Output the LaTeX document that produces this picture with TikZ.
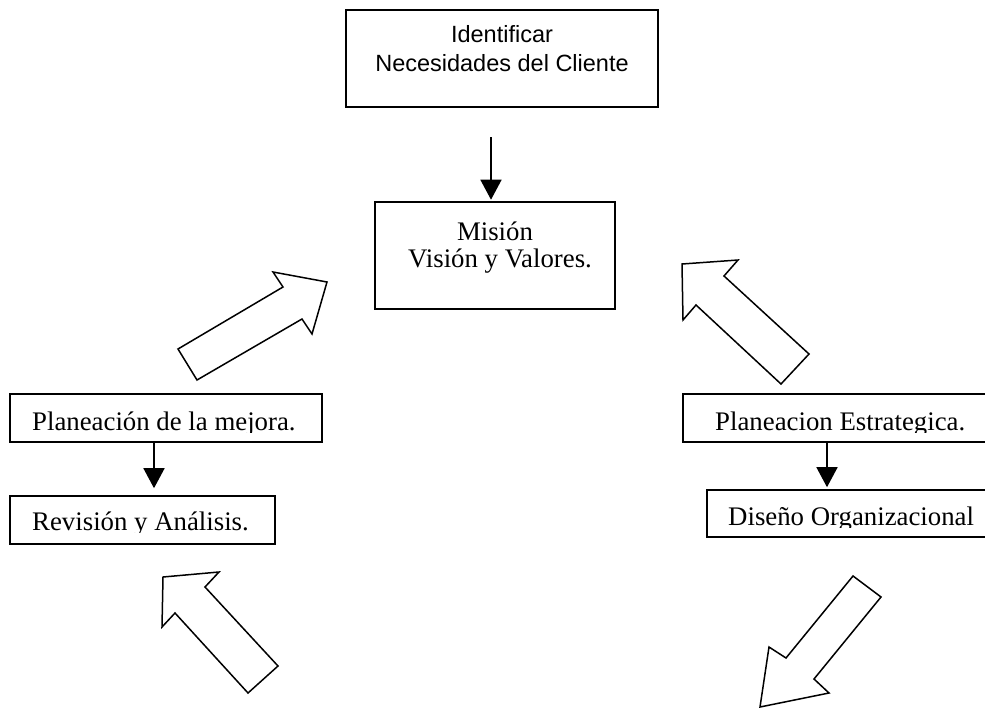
\documentclass[tikz,border=0pt]{standalone}
\usepackage{fontspec}
\setmainfont{Liberation Serif}
\newfontfamily\arialf{Liberation Sans}
\usetikzlibrary{arrows.meta}
\begin{document}
\begin{tikzpicture}[x=1pt,y=-1pt,
  box/.style={draw, line width=1.6pt, rectangle, inner sep=0pt},
  txt/.style={anchor=base, inner sep=0pt, font=\fontsize{26.8}{32}\selectfont},
  ltxt/.style={txt, anchor=base west},
  stxt/.style={anchor=base, inner sep=0pt, font=\arialf\fontsize{23.5}{28}\selectfont},
  link/.style={line width=1.6pt, -{Triangle[length=20pt,width=21pt]}},
  block/.style={draw, line width=1.5pt, fill=white, line join=miter}
]
\useasboundingbox[fill=white] (0,0) rectangle (985,709);
\clip (0,0) rectangle (985,709);

% boxes
\node[box, minimum width=312pt, minimum height=97pt] (need) at (502,58.5) {};
\node[box, minimum width=240pt, minimum height=107pt] (mis) at (495,255.5) {};
\node[box, minimum width=312pt, minimum height=48pt] (plm) at (166,418) {};
\node[box, minimum width=265pt, minimum height=48pt] (rev) at (142.5,520) {};
\node[box, minimum width=317pt, minimum height=48pt] (ple) at (841.5,418) {};
\node[box, minimum width=293pt, minimum height=47pt] (dis) at (853.5,513.5) {};

% texts
\node[stxt] (t1) at (502,43) {Identificar};
\node[stxt] (t2) at (502,71) {Necesidades del Cliente};
\node[txt] (t3) at (495,240) {Misión};
\node[txt] (t4) at (500,267) {Visión y Valores.};
\begin{scope}
  \clip (12,396) rectangle (320,432.5);
  \node[ltxt] (t5) at (32,430) {Planeación de la mejora.};
\end{scope}
\begin{scope}
  \clip (12,498) rectangle (273,532.5);
  \node[ltxt] (t6) at (32,530) {Revisión y Análisis.};
\end{scope}
\begin{scope}
  \clip (685,396) rectangle (985,432.5);
  \node[ltxt] (t7) at (715,430) {Planeacion Estrategica.};
\end{scope}
\begin{scope}
  \clip (709,492) rectangle (985,527.5);
  \node[ltxt] (t8) at (728,525) {Diseño Organizacional};
\end{scope}

% connectors
\coordinate (a1s) at (491,137);
\coordinate (c2) at (154,0);
\coordinate (c3) at (827,0);
\draw[link, shorten >=1.5pt] (a1s) -- (mis.north -| a1s);
\draw[link, shorten >=7pt] (plm.south -| c2) -- (rev.north -| c2);
\draw[link, shorten >=2pt] (ple.south -| c3) -- (dis.north -| c3);

% block arrows
\draw[block] (197,380) -- (178,349) -- (283,287) -- (273,272) -- (327,282)
  -- (312,334) -- (302,319) -- cycle;
\draw[block] (682,264) -- (738,260) -- (724,276) -- (809,354) -- (781,384)
  -- (696,305) -- (683,320) -- cycle;
\draw[block] (163,577) -- (219,572) -- (205,587) -- (278,666) -- (248,693)
  -- (175,613) -- (162,627) -- cycle;
\draw[block] (853,576) -- (881,597) -- (814,679) -- (829,693) -- (760,707)
  -- (769,647) -- (786,658) -- cycle;
\end{tikzpicture}
\end{document}
